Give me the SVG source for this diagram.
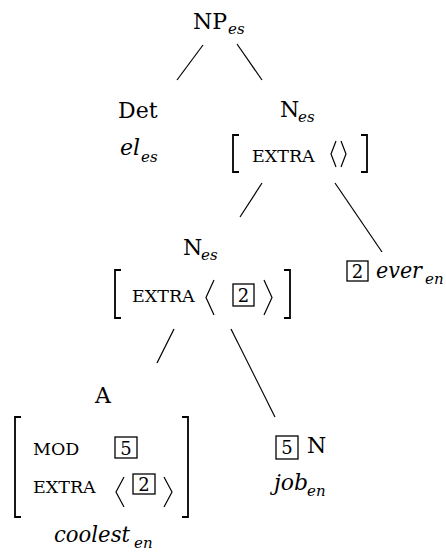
<svg xmlns="http://www.w3.org/2000/svg" width="446" height="558" viewBox="0 0 446 558">
<style>
.t{font-family:"DejaVu Serif","Liberation Serif",serif;font-size:22px;fill:#000}
.i{font-style:italic}
.s{font-family:"DejaVu Serif","Liberation Serif",serif;font-size:15px;font-style:italic;fill:#000}
.sc{font-family:"DejaVu Serif","Liberation Serif",serif;font-size:17.5px;fill:#000}
.d{font-family:"DejaVu Serif","Liberation Serif",serif;font-size:18px;fill:#000}
.br{fill:none;stroke:#000;stroke-width:1.8}
.ab{fill:none;stroke:#000;stroke-width:1.2}
.bx{fill:none;stroke:#000;stroke-width:1.3}
.ln{stroke:#000;stroke-width:1.2}
</style>
<rect width="446" height="558" fill="#fff"/>
<g id="connectors">
<line class="ln" x1="203" y1="45" x2="177" y2="80"/>
<line class="ln" x1="237" y1="44" x2="262" y2="80"/>
<line class="ln" x1="262" y1="183" x2="240" y2="217"/>
<line class="ln" x1="335" y1="183" x2="382" y2="252"/>
<line class="ln" x1="174" y1="329" x2="157" y2="363"/>
<line class="ln" x1="231" y1="329" x2="275" y2="417"/>
</g>
<g id="np">
<text class="t" x="193" y="29">NP</text><text class="s" x="228" y="34">es</text>
</g>
<g id="det">
<text class="t" x="118" y="118">Det</text>
<text class="t i" x="120" y="155">el</text><text class="s" x="141" y="162">es</text>
</g>
<g id="n1">
<text class="t" x="280" y="117">N</text><text class="s" x="298" y="122">es</text>
<path class="br" d="M239,135 H233 V172 H239"/>
<path class="br" d="M361,135 H367 V172 H361"/>
<text class="sc" x="252" y="162">EXTRA</text>
<path class="ab" d="M336,141 L331,154 L336,167"/>
<path class="ab" d="M341,141 L346,154 L341,167"/>
</g>
<g id="n2">
<text class="t" x="183" y="255">N</text><text class="s" x="201" y="260">es</text>
<path class="br" d="M121,270 H115 V318 H121"/>
<path class="br" d="M284,270 H290 V318 H284"/>
<text class="sc" x="132" y="302">EXTRA</text>
<path class="ab" d="M214,280 L206,297.5 L214,315"/>
<rect class="bx" x="233" y="284" width="21" height="22"/>
<text class="d" x="243.5" y="302" text-anchor="middle">2</text>
<path class="ab" d="M264,280 L272,297.5 L264,315"/>
</g>
<g id="ever">
<rect class="bx" x="347" y="261" width="21" height="20"/>
<text class="d" x="357.5" y="278" text-anchor="middle">2</text>
<text class="t i" x="376" y="278" textLength="46" lengthAdjust="spacingAndGlyphs">ever</text><text class="s" x="425" y="284">en</text>
</g>
<g id="a">
<text class="t" x="95" y="403">A</text>
<path class="br" d="M21,417 H15 V517 H21"/>
<path class="br" d="M182,417 H188 V517 H182"/>
<text class="sc" x="33" y="455">MOD</text>
<rect class="bx" x="115" y="437" width="22" height="21"/>
<text class="d" x="126" y="455" text-anchor="middle">5</text>
<text class="sc" x="33" y="493">EXTRA</text>
<path class="ab" d="M124,477 L116,492 L124,507"/>
<rect class="bx" x="133" y="474" width="22" height="20"/>
<text class="d" x="144" y="491" text-anchor="middle">2</text>
<path class="ab" d="M164,477 L172,492 L164,507"/>
<text class="t i" x="54" y="542" textLength="76" lengthAdjust="spacingAndGlyphs">coolest</text><text class="s" x="134" y="548">en</text>
</g>
<g id="n3">
<rect class="bx" x="276" y="436" width="22" height="23"/>
<text class="d" x="287" y="454" text-anchor="middle">5</text>
<text class="t" x="307" y="453">N</text>
<text class="t i" x="274" y="490">job</text><text class="s" x="307" y="496">en</text>
</g>
</svg>
